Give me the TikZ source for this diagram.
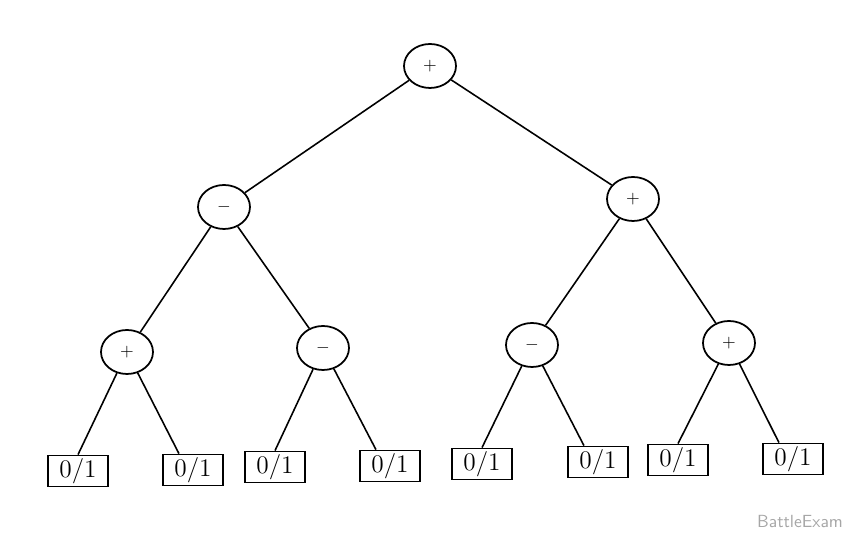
\documentclass[tikz,border=0pt]{standalone}
\usepackage{tikz}
\usetikzlibrary{shapes.geometric}
\tikzset{
    op/.style={draw,ellipse,line width=1pt,minimum width=1.04cm,minimum height=0.88cm,inner sep=0},
    leaf/.style={draw,line width=1pt,minimum width=1.2cm,minimum height=0.62cm,inner sep=0,font=\Large},
    edge/.style={line width=0.9pt}
}
\begin{document}
\begin{tikzpicture}
    \useasboundingbox (0,0) rectangle (17.2,10.72);
    \node(r)[op] at (8.6,9.4) {$+$};
    \node(l)[op] at (4.48,6.58) {$-$};
    \node(rr)[op] at (12.66,6.74) {$+$};
    \node(ll)[op] at (2.54,3.68) {$+$};
    \node(lr)[op] at (6.46,3.76) {$-$};
    \node(rl)[op] at (10.64,3.82) {$-$};
    \node(rrr)[op] at (14.58,3.86) {$+$};

    \node(a)[leaf] at (1.56,1.3) {0/1};
    \node(b)[leaf] at (3.86,1.32) {0/1};
    \node(c)[leaf] at (5.5,1.38) {0/1};
    \node(d)[leaf] at (7.8,1.4) {0/1};
    \node(e)[leaf] at (9.64,1.44) {0/1};
    \node(f)[leaf] at (11.96,1.48) {0/1};
    \node(g)[leaf] at (13.56,1.52) {0/1};
    \node(h)[leaf] at (15.86,1.54) {0/1};

    \draw[edge] (r)--(l);
    \draw[edge] (r)--(rr);
    \draw[edge] (l)--(ll);
    \draw[edge] (l)--(lr);
    \draw[edge] (rr)--(rl);
    \draw[edge] (rr)--(rrr);
    \draw[edge] (ll)--(a.north);
    \draw[edge] (ll)--([xshift=-8]b.north);
    \draw[edge] (lr)--(c.north);
    \draw[edge] (lr)--([xshift=-8]d.north);
    \draw[edge] (rl)--(e.north);
    \draw[edge] (rl)--([xshift=-8]f.north);
    \draw[edge] (rrr)--(g.north);
    \draw[edge] (rrr)--([xshift=-8]h.north);

    \node(wm)[text=black!35,font=\sffamily] at (16.0,0.28) {BattleExam};
\end{tikzpicture}
\end{document}
